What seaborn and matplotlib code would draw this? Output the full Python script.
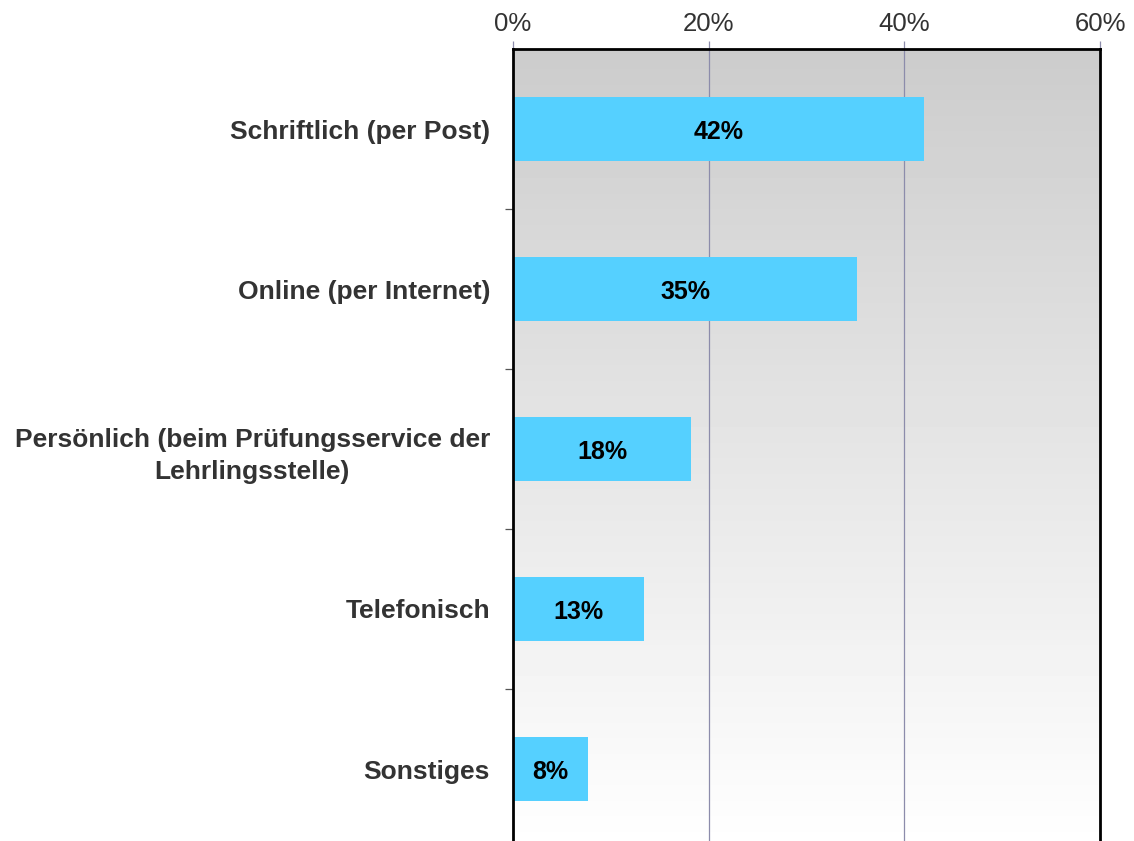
import numpy as np
import pandas as pd
import matplotlib
matplotlib.use("Agg")
import matplotlib.pyplot as plt
import seaborn as sns
from matplotlib.ticker import FixedLocator, PercentFormatter

categories = ["Schriftlich (per Post)", "Online (per Internet)",
              "Persönlich (beim Prüfungsservice der\nLehrlingsstelle)",
              "Telefonisch", "Sonstiges"]
values = [42.0, 35.2, 18.2, 13.4, 7.7]
value_labels = ["42%", "35%", "18%", "13%", "8%"]
x_ticks = [0, 20, 40, 60]

sns.set_style("white")
plt.rcParams['font.family'] = ['Liberation Sans', 'DejaVu Sans']

df = pd.DataFrame({"cat": categories, "val": values})

fig = plt.figure(figsize=(11.34, 8.41), dpi=100)
W, H = 1134, 841
ax = fig.add_axes([513 / W, (H - 849) / H, (1100 - 513) / W, 800 / H])

# gradient background
grad = np.linspace(0.80, 1.0, 256).reshape(-1, 1)
ax.imshow(grad, cmap="gray", vmin=0, vmax=1, aspect="auto",
          extent=[0, 60, 4.5, -0.5], zorder=0, interpolation="bilinear")

sns.barplot(data=df, x="val", y="cat", orient="h", color="#55d0ff",
            saturation=1, width=0.4, ax=ax, zorder=3, edgecolor="none")

ax.set_xlim(0, 60)
ax.set_ylim(4.5, -0.5)
ax.set_xlabel("")
ax.set_ylabel("")

for x in x_ticks[1:-1]:
    ax.axvline(x, color="#8c8cab", lw=0.9, zorder=2)

ax.xaxis.set_ticks_position("top")
ax.xaxis.set_label_position("top")
ax.set_xticks(x_ticks)
ax.xaxis.set_major_formatter(PercentFormatter(decimals=0))
ax.tick_params(axis="x", which="major", direction="out", length=5.5, width=0.9,
               color="#8c8cab", labelsize=18.5, labelcolor="#333333", pad=4,
               top=True, bottom=False)

ax.set_yticks(range(len(categories)))
ax.set_yticklabels(categories)
ax.tick_params(axis="y", which="major", length=0, pad=16.5, labelsize=19,
               labelcolor="#333333")
for lab in ax.get_yticklabels():
    lab.set_fontweight("bold")
    lab.set_multialignment("center")
    lab.set_linespacing(1.45)
ax.yaxis.set_minor_locator(FixedLocator([0.5, 1.5, 2.5, 3.5]))
ax.tick_params(axis="y", which="minor", direction="out", length=6, width=0.9,
               color="#555555", left=True)

for i, (v, t) in enumerate(zip(values, value_labels)):
    ax.text(v / 2, i + 0.02, t, ha="center", va="center", fontsize=18,
            fontweight="bold", color="black", zorder=5)

for s in ["left", "top", "right"]:
    ax.spines[s].set_visible(True)
    ax.spines[s].set_color("black")
    ax.spines[s].set_linewidth(2)
    ax.spines[s].set_zorder(6)
ax.spines["bottom"].set_visible(False)

fig.savefig("out.png", dpi=100)
